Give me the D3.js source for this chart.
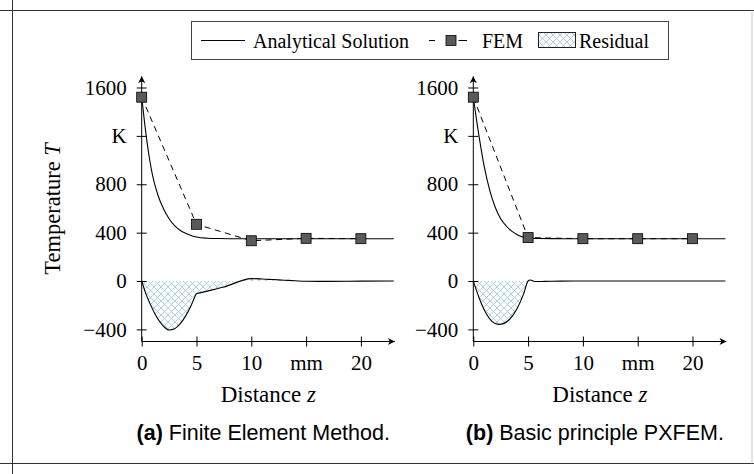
<!DOCTYPE html>
<html><head><meta charset="utf-8">
<script src="https://cdn.jsdelivr.net/npm/d3@7"></script>
<style>body{margin:0;background:#fff}svg{display:block}</style>
</head><body>
<svg id="c" width="754" height="474"></svg>
<script>
// ---- data ----
const zAnaA = [0,0.25,0.5,0.75,1,1.25,1.5,2,2.5,3,3.5,4,4.5,5,6,7,8,23];
const tAnaA = [1520,1320,1140,990,870,780,705,595,515,458,420,395,377,364,354,351,350,350];
const zAnaB = [0,0.5,1,1.5,2,2.5,3,3.5,4,4.5,5,6,8,23];
const tAnaB = [1520,1210,945,750,610,515,455,412,383,365,357,351,350,350];
const zFem = [0,5,10,15,20];
const tFemA = [1520,469,333,353,350];
const tFemB = [1520,359,350,350,350];
const zResA = [0,0.4,0.8,1.2,1.6,2,2.5,3,3.5,4,4.5,4.8,5,5.2,7.5,10,11,12,13,14,15,17,20,23];
const tResA = [0,-110,-195,-270,-330,-375,-405,-395,-355,-290,-205,-140,-105,-100,-50,20,17,12,7,2,-2,-3,-1,0];
const zResB = [0,0.5,1.1,1.7,2.3,2.8,3.3,4,4.6,5,5.2,5.6,6.5,8,10,23];
const tResB = [0,-132,-256,-333,-358,-350,-318,-228,-104,0,8,-4,-3,-1,0,0];
const yTicks = [-400,0,400,800,1200,1600];
const yTickLabels = ["\u2212400","0","400","800","K","1600"];
const xTicks = [0,5,10,15,20];
const xTickLabels = ["0","5","10","mm","20"];
const legendLabels = ["Analytical Solution","FEM","Residual"];
const captions = [["(a)"," Finite Element Method."],["(b)"," Basic principle PXFEM."]];

const svg = d3.select("#c");
const SERIF = "'Liberation Serif', 'Times New Roman', serif";
const SANS = "'Liberation Sans', Arial, sans-serif";

// defs
const defs = svg.append("defs");
const pat = defs.append("pattern").attr("id","hatch").attr("patternUnits","userSpaceOnUse")
  .attr("width",7).attr("height",7);
pat.append("path").attr("d","M0,0L7,7M7,0L0,7M-1,6L1,8M6,-1L8,1M-1,1L1,-1M6,8L8,6")
  .attr("stroke","#9fcbe6").attr("stroke-width",0.9).attr("fill","none");
const mk = defs.append("marker").attr("id","arr").attr("viewBox","-8 -5 10 10")
  .attr("refX",0).attr("refY",0).attr("markerWidth",10).attr("markerHeight",10)
  .attr("markerUnits","userSpaceOnUse").attr("orient","auto");
mk.append("path").attr("d","M-7,-3.6 L0,0 L-7,3.6 L-5,0 Z").attr("fill","#000");

// frame
svg.append("line").attr("x1",0).attr("x2",754).attr("y1",10.5).attr("y2",10.5).attr("stroke","#333").attr("stroke-width",1);
svg.append("line").attr("x1",0).attr("x2",754).attr("y1",463.5).attr("y2",463.5).attr("stroke","#333").attr("stroke-width",1);
svg.append("line").attr("x1",12.5).attr("x2",12.5).attr("y1",0).attr("y2",474).attr("stroke","#333").attr("stroke-width",1);
svg.append("line").attr("x1",752).attr("x2",752).attr("y1",10.5).attr("y2",463.5).attr("stroke","#c8c8c8").attr("stroke-width",1);

const y = d3.scaleLinear().domain([-500,1600]).range([341.5,87.5]);

function panel(x0, anaZ, anaT, femT, resZ, resT, cap, showYTitle){
  const x = d3.scaleLinear().domain([0,20]).range([x0, x0+219.2]);
  const g = svg.append("g");
  // residual hatch
  const resData = resZ.map((z,i)=>[z,resT[i]]);
  g.append("path").datum(resData)
    .attr("d", d3.area().x(d=>x(d[0])).y0(y(0)).y1(d=>y(d[1])).curve(d3.curveMonotoneX))
    .attr("fill","url(#hatch)").attr("stroke","none");
  // axes
  const ya = g.append("g").attr("transform",`translate(${x(0)},0)`)
    .call(d3.axisLeft(y).tickValues(yTicks).tickFormat((d,i)=>yTickLabels[i]).tickSize(5).tickPadding(10));
  ya.select(".domain").remove();
  ya.selectAll(".tick line").attr("x1",-5).attr("x2",5).attr("stroke","#000");
  ya.selectAll(".tick text").attr("font-family",SERIF).attr("font-size",21).attr("fill","#000");
  const xa = g.append("g").attr("transform",`translate(0,${y(-500)})`)
    .call(d3.axisBottom(x).tickValues(xTicks).tickFormat((d,i)=>xTickLabels[i]).tickSize(5).tickPadding(9));
  xa.select(".domain").remove();
  xa.selectAll(".tick line").attr("y1",-5).attr("y2",5).attr("stroke","#000");
  xa.selectAll(".tick text").attr("font-family",SERIF).attr("font-size",21).attr("fill","#000");
  g.append("line").attr("x1",x(0)).attr("x2",x(0)).attr("y1",y(-500)).attr("y2",y(1692))
    .attr("stroke","#000").attr("stroke-width",1).attr("marker-end","url(#arr)");
  g.append("line").attr("x1",x(0)).attr("x2",x(23.1)).attr("y1",y(-500)).attr("y2",y(-500))
    .attr("stroke","#000").attr("stroke-width",1).attr("marker-end","url(#arr)");
  // residual line
  g.append("path").datum(resData)
    .attr("d", d3.line().x(d=>x(d[0])).y(d=>y(d[1])).curve(d3.curveMonotoneX))
    .attr("fill","none").attr("stroke","#000").attr("stroke-width",1.1);
  // FEM dashed
  const femData = zFem.map((z,i)=>[z,femT[i]]);
  g.append("path").datum(femData).attr("d", d3.line().x(d=>x(d[0])).y(d=>y(d[1])))
    .attr("fill","none").attr("stroke","#000").attr("stroke-width",1).attr("stroke-dasharray","6,4.5");
  // analytical
  const anaData = anaZ.map((z,i)=>[z,anaT[i]]);
  g.append("path").datum(anaData)
    .attr("d", d3.line().x(d=>x(d[0])).y(d=>y(d[1])).curve(d3.curveMonotoneX))
    .attr("fill","none").attr("stroke","#000").attr("stroke-width",1.1);
  // FEM squares
  g.selectAll("rect.fem").data(femData).join("rect").attr("class","fem")
    .attr("x",d=>x(d[0])-5).attr("y",d=>y(d[1])-5).attr("width",10).attr("height",10)
    .attr("fill","#5a5a5a").attr("stroke","#000").attr("stroke-width",0.8);
  // x title
  const cx = (x(0)+x(23.1))/2;
  const xt = g.append("text").attr("x",cx).attr("y",402).attr("text-anchor","middle")
    .attr("font-family",SERIF).attr("font-size",23);
  xt.append("tspan").text("Distance ");
  xt.append("tspan").attr("font-style","italic").text("z");
  // caption
  const ct = g.append("text").attr("x",cx-5).attr("y",440).attr("text-anchor","middle")
    .attr("font-family",SANS).attr("font-size",21.5);
  ct.append("tspan").attr("font-weight","bold").text(cap[0]);
  ct.append("tspan").text(cap[1]);
  if(showYTitle){
    const cy = (y(-500)+y(1692))/2;
    const yt = g.append("text").attr("transform",`translate(60,${cy}) rotate(-90)`)
      .attr("text-anchor","middle").attr("font-family",SERIF).attr("font-size",22.5);
    yt.append("tspan").text("Temperature ");
    yt.append("tspan").attr("font-style","italic").text("T");
  }
}
panel(141.7, zAnaA, tAnaA, tFemA, zResA, tResA, captions[0], true);
panel(473.3, zAnaB, tAnaB, tFemB, zResB, tResB, captions[1], false);

// legend
const lg = svg.append("g");
lg.append("rect").attr("x",191.5).attr("y",21.5).attr("width",477).attr("height",38)
  .attr("fill","#fff").attr("stroke","#444").attr("stroke-width",1);
const ly = 40.5;
lg.append("line").attr("x1",201).attr("x2",245).attr("y1",ly).attr("y2",ly).attr("stroke","#000").attr("stroke-width",1);
lg.append("text").attr("x",253).attr("y",ly+7).attr("font-family",SERIF).attr("font-size",20).text(legendLabels[0]);
lg.append("line").attr("x1",429).attr("x2",467).attr("y1",ly).attr("y2",ly).attr("stroke","#000").attr("stroke-width",1).attr("stroke-dasharray","6,11.5,6");
lg.append("rect").attr("x",446).attr("y",ly-5).attr("width",10).attr("height",10).attr("fill","#5a5a5a").attr("stroke","#000").attr("stroke-width",0.8);
lg.append("text").attr("x",482).attr("y",ly+7).attr("font-family",SERIF).attr("font-size",20).text(legendLabels[1]);
lg.append("rect").attr("x",538.5).attr("y",32.5).attr("width",37).attr("height",15).attr("fill","url(#hatch)").attr("stroke","#222").attr("stroke-width",1);
lg.append("text").attr("x",579).attr("y",ly+7).attr("font-family",SERIF).attr("font-size",20).text(legendLabels[2]);
</script>
</body></html>
